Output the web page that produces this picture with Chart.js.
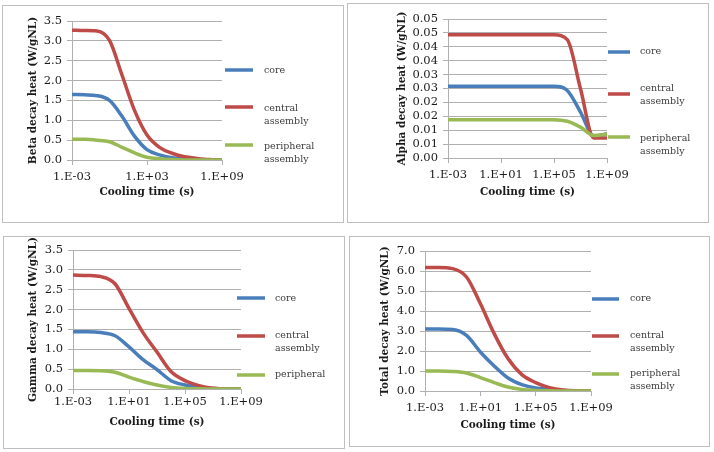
<!DOCTYPE html>
<html>
<head>
<meta charset="utf-8">
<script src="https://cdn.jsdelivr.net/npm/chart.js@4.4.1/dist/chart.umd.min.js"></script>
<style>
  body { margin: 0; background: #fff; }
  .panel { position: absolute; border: 1px solid #bfbfbf; background: #fff; }
  .panel canvas { display: block; }
</style>
</head>
<body>
<div class="panel" style="left:2px;top:5px;"><canvas id="beta" width="340" height="216"></canvas></div>
<div class="panel" style="left:347px;top:3px;"><canvas id="alpha" width="360" height="218"></canvas></div>
<div class="panel" style="left:3px;top:236px;"><canvas id="gamma" width="340" height="211"></canvas></div>
<div class="panel" style="left:349px;top:236px;"><canvas id="total" width="359" height="209"></canvas></div>
<script>
// cooling time categories, one per decade
const coolingTime = ['1.E-03', '1.E-02', '1.E-01', '1.E+00', '1.E+01', '1.E+02', '1.E+03',
  '1.E+04', '1.E+05', '1.E+06', '1.E+07', '1.E+08', '1.E+09'];
const seriesNames = ['core', 'central assembly', 'peripheral assembly'];

// beta decay heat (W/gNL)
const betaCore = [1.65, 1.64, 1.62, 1.50, 1.10, 0.60, 0.26, 0.13, 0.06, 0.025, 0.01, 0.0, 0.0];
const betaCentral = [3.27, 3.26, 3.25, 3.01, 2.14, 1.25, 0.63, 0.32, 0.17, 0.08, 0.04, 0.01, 0.0];
const betaPeripheral = [0.52, 0.52, 0.50, 0.46, 0.32, 0.18, 0.07, 0.03, 0.01, 0.0, 0.0, 0.0, 0.0];

// alpha decay heat (W/gNL)
const alphaCore = [0.0258, 0.0258, 0.0258, 0.0258, 0.0258, 0.0258, 0.0258, 0.0258, 0.0258, 0.0243, 0.0165, 0.0079, 0.0086];
const alphaCentral = [0.0443, 0.0443, 0.0443, 0.0443, 0.0443, 0.0443, 0.0443, 0.0443, 0.0443, 0.0426, 0.0249, 0.0072, 0.0072];
const alphaPeripheral = [0.0138, 0.0138, 0.0138, 0.0138, 0.0138, 0.0138, 0.0138, 0.0138, 0.0138, 0.0132, 0.0111, 0.0081, 0.0086];

// gamma decay heat (W/gNL)
const gammaCore = [1.44, 1.44, 1.42, 1.34, 1.06, 0.74, 0.49, 0.21, 0.10, 0.04, 0.01, 0.0, 0.0];
const gammaCentral = [2.87, 2.86, 2.83, 2.65, 2.03, 1.42, 0.93, 0.44, 0.21, 0.085, 0.02, 0.0, 0.0];
const gammaPeripheral = [0.465, 0.465, 0.46, 0.42, 0.30, 0.19, 0.10, 0.04, 0.015, 0.005, 0.0, 0.0, 0.0];

// total decay heat (W/gNL)
const totalCore = [3.10, 3.10, 3.07, 2.78, 1.95, 1.25, 0.65, 0.32, 0.15, 0.08, 0.02, 0.0, 0.0];
const totalCentral = [6.18, 6.18, 6.12, 5.70, 4.37, 2.87, 1.62, 0.82, 0.42, 0.17, 0.05, 0.01, 0.0];
const totalPeripheral = [1.00, 1.00, 0.98, 0.90, 0.67, 0.42, 0.20, 0.08, 0.03, 0.01, 0.0, 0.0, 0.0];

// y tick labels
const ticks35 = ['0.0', '0.5', '1.0', '1.5', '2.0', '2.5', '3.0', '3.5'];
const alphaTicks = ['0.00', '0.01', '0.01', '0.02', '0.02', '0.03', '0.03', '0.04', '0.04', '0.05', '0.05'];
const ticks70 = ['0.0', '1.0', '2.0', '3.0', '4.0', '5.0', '6.0', '7.0'];

const colors = ['#4a7ebb', '#be4b48', '#98b954'];
const gridColor = '#b0b0b0';

Chart.defaults.font.family = '"DejaVu Serif", serif';
Chart.defaults.color = '#1a1a1a';

// legend on the right, with wrapped labels
const sideLegend = {
  id: 'sideLegend',
  afterDraw(chart, args, opts) {
    const ctx = chart.ctx;
    ctx.save();
    opts.rows.forEach((row, i) => {
      ctx.strokeStyle = colors[i];
      ctx.lineWidth = 3.5;
      ctx.beginPath();
      ctx.moveTo(opts.x0, row.y);
      ctx.lineTo(opts.x1, row.y);
      ctx.stroke();
      ctx.fillStyle = '#404040';
      ctx.font = '9.5px "DejaVu Serif"';
      ctx.textBaseline = 'middle';
      opts.lines[i].forEach((t, j) => ctx.fillText(t, opts.tx, row.ty + j * 13));
    });
    ctx.restore();
  }
};

function makeChart(id, c) {
  const canvas = document.getElementById(id);
  const W = canvas.width, H = canvas.height;
  const step = c.max / (c.yTicks.length - 1);
  new Chart(canvas, {
    type: 'line',
    data: {
      labels: coolingTime,
      datasets: c.series.map((d, i) => ({
        label: seriesNames[i],
        data: d,
        borderColor: colors[i],
        borderWidth: 3.5,
        pointRadius: 0,
        cubicInterpolationMode: 'monotone',
        order: 3 - i,
      })),
    },
    options: {
      responsive: false,
      animation: false,
      layout: { padding: { left: 0, top: c.plot.top, right: W - c.plot.right, bottom: 0 } },
      plugins: {
        legend: { display: false },
        tooltip: { enabled: false },
        sideLegend: c.legend,
      },
      scales: {
        x: {
          afterFit: s => { s.height = H - c.plot.bottom; },
          grid: { drawOnChartArea: false, drawTicks: true, tickLength: 5, color: gridColor },
          border: { color: gridColor },
          ticks: {
            autoSkip: false, maxRotation: 0, padding: c.xTickPad,
            font: { size: 11.5 },
            callback: (v, i) => (i % c.every === 0 ? coolingTime[i] : null),
          },
          title: {
            display: true, text: 'Cooling time (s)',
            font: { size: 10.5, weight: 'bold' },
            padding: { top: 0, bottom: c.xTitlePad },
          },
        },
        y: {
          min: 0, max: c.max,
          afterFit: s => { s.width = c.plot.left; },
          afterBuildTicks: s => { s.ticks = c.yTicks.map((_, i) => ({ value: i * step })); },
          grid: { color: gridColor, tickLength: 5 },
          border: { color: gridColor },
          ticks: {
            autoSkip: false,
            padding: 5,
            font: { size: 11.5 },
            callback: (v, i) => c.yTicks[i],
          },
          title: {
            display: true, text: c.yTitle,
            font: { size: 10.5, weight: 'bold' },
            padding: { top: c.yTitlePad, bottom: 0 },
          },
        },
      },
    },
    plugins: [sideLegend],
  });
}

makeChart('beta', {
  series: [betaCore, betaCentral, betaPeripheral],
  max: 3.5, yTicks: ticks35, every: 6,
  yTitle: 'Beta decay heat (W/gNL)',
  plot: { left: 69, right: 219, top: 15, bottom: 154 },
  yTitlePad: 24, xTitlePad: 23, xTickPad: 5,
  legend: {
    x0: 222, x1: 250, tx: 261,
    rows: [{ y: 64, ty: 65 }, { y: 101, ty: 103 }, { y: 139, ty: 141 }],
    lines: [['core'], ['central', 'assembly'], ['peripheral', 'assembly']],
  },
});

makeChart('alpha', {
  series: [alphaCore, alphaCentral, alphaPeripheral],
  max: 0.05, yTicks: alphaTicks, every: 4,
  yTitle: 'Alpha decay heat (W/gNL)',
  plot: { left: 100, right: 259, top: 15, bottom: 154 },
  yTitlePad: 48, xTitlePad: 23, xTickPad: 5,
  legend: {
    x0: 260, x1: 282, tx: 292,
    rows: [{ y: 48, ty: 48 }, { y: 90, ty: 85 }, { y: 133, ty: 135 }],
    lines: [['core'], ['central', 'assembly'], ['peripheral', 'assembly']],
  },
});

makeChart('gamma', {
  series: [gammaCore, gammaCentral, gammaPeripheral],
  max: 3.5, yTicks: ticks35, every: 4,
  yTitle: 'Gamma decay heat (W/gNL)',
  plot: { left: 69, right: 237, top: 13, bottom: 152 },
  yTitlePad: 23, xTitlePad: 19, xTickPad: 1,
  legend: {
    x0: 233, x1: 261, tx: 271,
    rows: [{ y: 61, ty: 62 }, { y: 99, ty: 99 }, { y: 138, ty: 138 }],
    lines: [['core'], ['central', 'assembly'], ['peripheral']],
  },
});

makeChart('total', {
  series: [totalCore, totalCentral, totalPeripheral],
  max: 7, yTicks: ticks70, every: 4,
  yTitle: 'Total decay heat (W/gNL)',
  plot: { left: 75, right: 241, top: 14, bottom: 154 },
  yTitlePad: 29, xTitlePad: 14, xTickPad: 5,
  legend: {
    x0: 242, x1: 269, tx: 280,
    rows: [{ y: 62, ty: 62 }, { y: 99, ty: 99 }, { y: 137, ty: 137 }],
    lines: [['core'], ['central', 'assembly'], ['peripheral', 'assembly']],
  },
});
</script>
</body>
</html>
